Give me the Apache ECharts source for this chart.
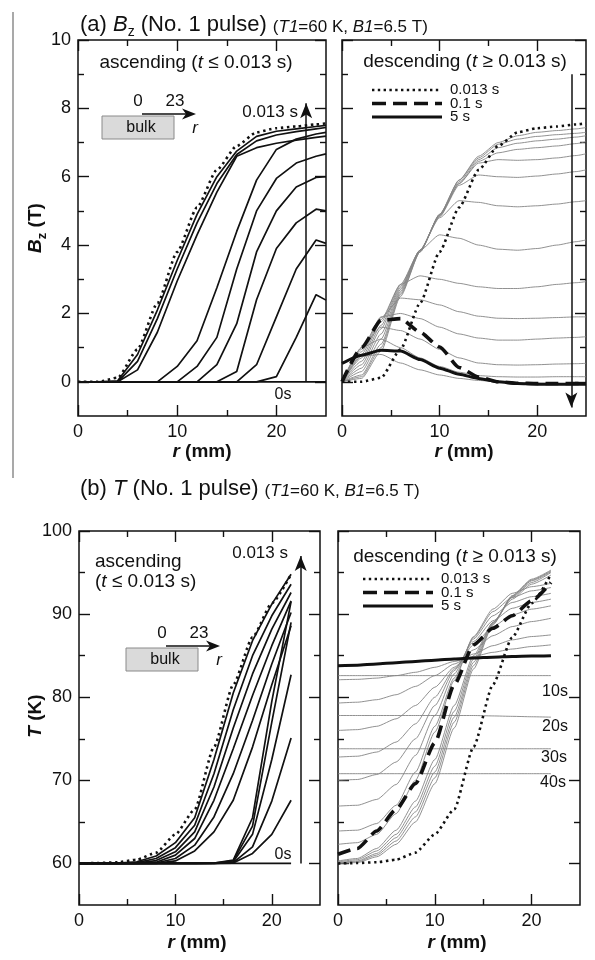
<!DOCTYPE html>
<html>
<head>
<meta charset="utf-8">
<script src="https://cdn.jsdelivr.net/npm/echarts@6/dist/echarts.min.js"></script>
<style>
  html, body { margin: 0; padding: 0; background: #fff; }
  #chart { width: 595px; height: 960px; }
</style>
</head>
<body>
<div id="chart"></div>
<script>
// radial positions (mm)
var R_B = [0, 2, 4, 6, 8, 10, 12, 14, 16, 18, 20, 22, 24, 25];
var R_T = [0, 2, 4, 6, 8, 10, 12, 14, 16, 18, 20, 22];

// tick values
var X_MAJOR = [0, 10, 20], X_MINOR = [5, 15];
var BZ_MAJOR = [0, 2, 4, 6, 8, 10], BZ_MINOR = [1, 3, 5, 7, 9];
var T_MAJOR = [60, 70, 80, 90, 100], T_MINOR = [65, 75, 85, 95];

// (a) Bz, ascending
var BZ_ASC_0S = [0, 0, 0, 0, 0, 0, 0, 0, 0, 0, 0, 0, 0, 0];
var BZ_0013 = [0, 0, 0.12, 0.95, 2.3, 3.8, 5.1, 6.2, 6.9, 7.3, 7.42, 7.47, 7.53, 7.56];
var BZ_ASC_1 = [0, 0, 0.03, 0.8, 2.1, 3.55, 4.9, 6.0, 6.75, 7.18, 7.33, 7.4, 7.47, 7.5];
var BZ_ASC_2 = [0, 0, 0, 0.6, 1.85, 3.3, 4.65, 5.8, 6.65, 7.05, 7.22, 7.32, 7.4, 7.44];
var BZ_ASC_3 = [0, 0, 0, 0.35, 1.45, 2.95, 4.3, 5.55, 6.6, 6.85, 6.98, 7.07, 7.15, 7.19];
var BZ_ASC_4 = [0, 0, 0, 0, 0, 0.45, 1.2, 2.75, 4.4, 5.9, 6.8, 7.1, 7.25, 7.3];
var BZ_ASC_5 = [0, 0, 0, 0, 0, 0, 0.45, 1.3, 3.3, 5.0, 5.95, 6.4, 6.6, 6.67];
var BZ_ASC_6 = [0, 0, 0, 0, 0, 0, 0, 0.5, 1.7, 3.8, 5.0, 5.7, 5.98, 6.0];
var BZ_ASC_7 = [0, 0, 0, 0, 0, 0, 0, 0, 0.3, 2.4, 3.9, 4.65, 5.05, 5.0];
var BZ_ASC_8 = [0, 0, 0, 0, 0, 0, 0, 0, 0, 0.5, 1.9, 3.3, 4.15, 4.05];
var BZ_ASC_9 = [0, 0, 0, 0, 0, 0, 0, 0, 0, 0, 0.15, 1.3, 2.55, 2.39];

// (a) Bz, descending
var BZ_DESC_1 = [0, 0.1, 0.9, 2.5, 3.8, 4.9, 5.9, 6.6, 7.0, 7.2, 7.3, 7.35, 7.4, 7.44];
var BZ_DESC_2 = [0, 0.15, 1.0, 2.55, 3.8, 4.9, 5.9, 6.55, 6.95, 7.1, 7.18, 7.23, 7.27, 7.3];
var BZ_DESC_3 = [0, 0.2, 1.1, 2.6, 3.82, 4.88, 5.85, 6.5, 6.85, 6.98, 7.05, 7.1, 7.16, 7.2];
var BZ_DESC_4 = [0, 0.3, 1.25, 2.65, 3.85, 4.87, 5.8, 6.45, 6.7, 6.8, 6.85, 6.9, 6.97, 7.02];
var BZ_DESC_5 = [0, 0.4, 1.4, 2.7, 3.85, 4.85, 5.8, 6.4, 6.5, 6.48, 6.5, 6.55, 6.62, 6.67];
var BZ_DESC_6 = [0, 0.5, 1.55, 2.75, 3.85, 4.83, 5.75, 6.05, 6.0, 5.98, 6.02, 6.08, 6.15, 6.2];
var BZ_DESC_7 = [0, 0.6, 1.65, 2.8, 3.85, 4.8, 5.3, 5.25, 5.15, 5.12, 5.15, 5.2, 5.27, 5.3];
var BZ_DESC_8 = [0, 0.7, 1.75, 2.85, 3.85, 4.3, 4.2, 4.0, 3.88, 3.85, 3.9, 4.0, 4.1, 4.15];
var BZ_DESC_9 = [0, 0.8, 1.82, 2.85, 3.1, 3.0, 2.88, 2.78, 2.73, 2.73, 2.78, 2.85, 2.9, 2.93];
var BZ_DESC_10 = [0, 0.88, 1.88, 2.45, 2.4, 2.25, 2.05, 1.92, 1.86, 1.85, 1.86, 1.88, 1.9, 1.9];
var BZ_DESC_11 = [0, 0.95, 1.9, 2.0, 1.85, 1.6, 1.4, 1.28, 1.22, 1.22, 1.25, 1.28, 1.3, 1.32];
var BZ_DESC_12 = [0, 1.0, 1.6, 1.5, 1.25, 0.95, 0.7, 0.55, 0.5, 0.49, 0.5, 0.52, 0.53, 0.54];
var BZ_DESC_13 = [0, 1.0, 1.25, 1.0, 0.7, 0.45, 0.28, 0.18, 0.15, 0.14, 0.14, 0.15, 0.15, 0.15];
var BZ_DESC_14 = [0, 0.75, 0.8, 0.55, 0.35, 0.2, 0.1, 0.04, 0, -0.03, -0.04, -0.05, -0.05, -0.05];
var BZ_01 = [0, 1.0, 1.8, 1.85, 1.45, 1.02, 0.42, 0.14, 0, -0.04, -0.05, -0.05, -0.05, -0.04];
var BZ_5S = [0.54, 0.78, 0.92, 0.9, 0.65, 0.4, 0.22, 0.1, 0, -0.05, -0.07, -0.07, -0.07, -0.07];

// (b) T, ascending
var T_ASC_0S = [60, 60, 60, 60, 60, 60, 60, 60, 60, 60, 60, 60];
var T_0013 = [60, 60.05, 60.15, 60.45, 61.3, 63.5, 66.5, 74.0, 81.5, 87.2, 91.3, 94.8];
var T_ASC_1 = [60, 60, 60.05, 60.2, 60.9, 62.5, 65.5, 72.5, 80.5, 86.8, 91.2, 94.8];
var T_ASC_2 = [60, 60, 60, 60.1, 60.6, 61.9, 64.6, 70.8, 78.5, 85.0, 89.8, 93.6];
var T_ASC_3 = [60, 60, 60, 60.05, 60.35, 61.4, 63.8, 69.2, 76.3, 82.8, 88.2, 92.6];
var T_ASC_4 = [60, 60, 60, 60, 60.15, 61.0, 63.0, 67.6, 73.8, 80.2, 86.2, 91.6];
var T_ASC_5 = [60, 60, 60, 60, 60.05, 60.6, 62.2, 65.6, 70.8, 77.2, 84.0, 90.2];
var T_ASC_6 = [60, 60, 60, 60, 60, 60.3, 61.5, 63.8, 67.6, 74.0, 81.5, 88.6];
var T_ASC_7 = [60, 60, 60, 60, 60, 60, 60, 60.05, 60.4, 65.5, 79.5, 91.5];
var T_ASC_8 = [60, 60, 60, 60, 60, 60, 60, 60.05, 60.3, 64.5, 77.0, 89.0];
var T_ASC_9 = [60, 60, 60, 60, 60, 60, 60, 60, 60.2, 63.5, 72.5, 82.7];
var T_ASC_10 = [60, 60, 60, 60, 60, 60, 60, 60, 60.1, 62.0, 67.5, 75.1];
var T_ASC_11 = [60, 60, 60, 60, 60, 60, 60, 60, 60.05, 61.2, 63.5, 67.6];

// (b) T, descending
var T_DESC_E1 = [60.3, 60.6, 61.8, 64.0, 67.5, 72.5, 79.0, 85.0, 89.0, 91.8, 93.6, 94.7];
var T_DESC_E2 = [60.2, 60.45, 61.5, 63.5, 66.8, 71.7, 78.3, 84.6, 89.0, 92.0, 93.8, 95.0];
var T_DESC_E3 = [60.1, 60.3, 61.2, 63.1, 66.2, 71.0, 77.6, 84.2, 88.9, 92.1, 94.0, 95.1];
var T_DESC_E4 = [60.05, 60.2, 61.0, 62.7, 65.6, 70.3, 77.0, 83.8, 88.8, 92.2, 94.1, 95.2];
var T_DESC_E5 = [60.0, 60.1, 60.8, 62.3, 65.0, 69.6, 76.3, 83.4, 88.7, 92.2, 94.2, 95.3];
var T_DESC_L1 = [82.1, 82.15, 82.3, 82.6, 83.0, 83.6, 84.3, 84.9, 85.4, 85.8, 86.1, 86.3];
var T_DESC_L2 = [79.3, 79.4, 79.7, 80.3, 81.3, 82.6, 84.0, 85.2, 86.2, 86.9, 87.3, 87.5];
var T_DESC_L3 = [76.0, 76.1, 76.5, 77.4, 79.0, 81.2, 83.6, 85.7, 87.4, 88.5, 89.1, 89.5];
var T_DESC_L4 = [72.8, 72.9, 73.4, 74.6, 76.8, 80.0, 83.4, 86.3, 88.5, 89.9, 90.6, 91.0];
var T_DESC_L5 = [70.0, 70.1, 70.7, 72.2, 75.0, 79.0, 83.2, 86.7, 89.2, 90.7, 91.4, 91.8];
var T_DESC_L6 = [66.9, 67.0, 67.7, 69.5, 73.0, 77.8, 82.8, 87.0, 89.8, 91.4, 92.1, 92.5];
var T_DESC_L7 = [63.9, 64.0, 64.8, 67.0, 71.0, 76.5, 82.3, 87.2, 90.3, 92.0, 92.8, 93.2];
var T_DESC_L8 = [62.3, 62.5, 63.5, 66.0, 70.0, 75.8, 82.0, 87.3, 90.6, 92.5, 93.3, 93.7];
var T_01 = [61.1, 61.8, 63.9, 66.5, 69.6, 74.5, 81.5, 86.3, 88.3, 89.8, 91.6, 93.8];
var T_5S = [83.8, 83.85, 84.0, 84.15, 84.3, 84.45, 84.6, 84.72, 84.82, 84.9, 84.95, 85.0];
var T_10S = [82.6, 82.6, 82.6, 82.6, 82.6, 82.6, 82.6, 82.6, 82.6, 82.6, 82.6, 82.6];
var T_20S = [77.8, 77.8, 77.8, 77.8, 77.8, 77.8, 77.8, 77.8, 77.75, 77.7, 77.65, 77.6];
var T_30S = [73.8, 73.8, 73.8, 73.8, 73.8, 73.8, 73.8, 73.8, 73.8, 73.8, 73.8, 73.8];
var T_40S = [70.8, 70.8, 70.8, 70.8, 70.8, 70.8, 70.8, 70.8, 70.8, 70.8, 70.8, 70.8];

var FONT = '"Liberation Sans", Arial, Helvetica, sans-serif';
var INK = '#111';

(function() {
    var myChart = echarts.init(document.getElementById('chart'));

    // 4 panels: (a) asc, (a) desc, (b) asc, (b) desc
    var grids = [
        { left: 78, top: 40, width: 248, height: 376 },
        { left: 342, top: 40, width: 244, height: 376 },
        { left: 79, top: 531, width: 241, height: 374 },
        { left: 338, top: 531, width: 242, height: 374 }
    ].map(function(g) {
        return Object.assign({ show: true, borderColor: INK, borderWidth: 1.5, backgroundColor: 'transparent' }, g);
    });

    var tickStyle = { color: INK, width: 1.4 };

    function ax(g, pos, min, max, ticks, len, labels) {
        return {
            gridIndex: g, type: 'value', position: pos, min: min, max: max,
            // onZero off, otherwise the axis jumps to the zero line
            axisLine: { show: false, onZero: false },
            splitLine: { show: false },
            axisTick: { show: true, inside: true, length: len, customValues: ticks, lineStyle: tickStyle },
            axisLabel: labels ? {
                show: true, customValues: labels, fontSize: 18, color: INK, fontFamily: FONT, margin: 7
            } : { show: false }
        };
    }

    // every panel gets 4 axes per dimension: major+minor on both sides
    function axesFor(dim, g, min, max, major, minor, labelled) {
        var a = dim === 'x' ? 'bottom' : 'left';
        var b = dim === 'x' ? 'top' : 'right';
        return [
            ax(g, a, min, max, major, 11, labelled ? major : null),
            ax(g, a, min, max, minor, 6, null),
            ax(g, b, min, max, major, 11, null),
            ax(g, b, min, max, minor, 6, null)
        ];
    }

    var xAxis = [].concat(
        axesFor('x', 0, 0, 25, X_MAJOR, X_MINOR, true),
        axesFor('x', 1, 0, 25, X_MAJOR, X_MINOR, true),
        axesFor('x', 2, 0, 25, X_MAJOR, X_MINOR, true),
        axesFor('x', 3, 0, 25, X_MAJOR, X_MINOR, true)
    );
    var yAxis = [].concat(
        axesFor('y', 0, -1, 10, BZ_MAJOR, BZ_MINOR, true),
        axesFor('y', 1, -1, 10, BZ_MAJOR, BZ_MINOR, false),
        axesFor('y', 2, 55, 100, T_MAJOR, T_MINOR, true),
        axesFor('y', 3, 55, 100, T_MAJOR, T_MINOR, false)
    );

    var S_BLACK = { color: INK, width: 1.7 };
    var S_GRAY = { color: '#858585', width: 0.9 };
    var S_DOT = { color: INK, width: 2.6, type: [2.4, 3.6] };
    var S_DASH = { color: INK, width: 3.6, type: [13, 7] };
    var S_THICK = { color: INK, width: 3 };

    var series = [];
    function addLine(g, xs, ys, style, extra) {
        series.push(Object.assign({
            type: 'line',
            xAxisIndex: 4 * g,
            yAxisIndex: 4 * g,
            data: xs.map(function(x, i) { return [x, ys[i]]; }),
            symbol: 'none',
            showSymbol: false,
            silent: true,
            lineStyle: style
        }, extra || {}));
    }
    function arrow(from, to) {
        return {
            silent: true,
            symbol: ['none', 'arrow'],
            symbolSize: [9, 15],
            label: { show: false },
            lineStyle: { color: INK, width: 1.5, type: 'solid' },
            data: [[{ coord: from }, { coord: to }]]
        };
    }
    var smooth = { smooth: 0.2, smoothMonotone: 'x' };

    // (a) ascending
    addLine(0, R_B, BZ_ASC_0S, S_BLACK, { markLine: arrow([23, 0], [23, 8.15]) });
    [BZ_ASC_1, BZ_ASC_2, BZ_ASC_3, BZ_ASC_4, BZ_ASC_5, BZ_ASC_6, BZ_ASC_7, BZ_ASC_8, BZ_ASC_9]
        .forEach(function(v) { addLine(0, R_B, v, S_BLACK); });
    addLine(0, R_B, BZ_0013, S_DOT, smooth);

    // (a) descending
    [BZ_DESC_1, BZ_DESC_2, BZ_DESC_3, BZ_DESC_4, BZ_DESC_5, BZ_DESC_6, BZ_DESC_7,
     BZ_DESC_8, BZ_DESC_9, BZ_DESC_10, BZ_DESC_11, BZ_DESC_12, BZ_DESC_13, BZ_DESC_14]
        .forEach(function(v) { addLine(1, R_B, v, S_GRAY, smooth); });
    addLine(1, R_B, BZ_0013, S_DOT, smooth);
    addLine(1, R_B, BZ_01, S_DASH, smooth);
    addLine(1, R_B, BZ_5S, S_THICK, Object.assign({ markLine: arrow([23.5, 9.0], [23.5, -0.75]) }, smooth));

    // (b) ascending
    addLine(2, R_T, T_ASC_0S, S_BLACK, { markLine: arrow([23, 60], [23, 97]) });
    [T_ASC_1, T_ASC_2, T_ASC_3, T_ASC_4, T_ASC_5, T_ASC_6, T_ASC_7, T_ASC_8, T_ASC_9, T_ASC_10, T_ASC_11]
        .forEach(function(v) { addLine(2, R_T, v, S_BLACK); });
    addLine(2, R_T, T_0013, S_DOT, smooth);

    // (b) descending
    [T_DESC_E1, T_DESC_E2, T_DESC_E3, T_DESC_E4, T_DESC_E5,
     T_DESC_L1, T_DESC_L2, T_DESC_L3, T_DESC_L4, T_DESC_L5, T_DESC_L6, T_DESC_L7, T_DESC_L8,
     T_10S, T_20S, T_30S, T_40S]
        .forEach(function(v) { addLine(3, R_T, v, S_GRAY, smooth); });
    addLine(3, R_T, T_0013, S_DOT, smooth);
    addLine(3, R_T, T_01, S_DASH, smooth);
    addLine(3, R_T, T_5S, S_THICK, smooth);

    // texts and small drawings
    function txt(x, y, text, o) {
        return {
            type: 'text', x: x, y: y, silent: true, z: 100,
            style: Object.assign({ text: text, fill: INK, fontFamily: FONT, fontSize: 18, align: 'left', verticalAlign: 'middle' }, o || {})
        };
    }
    function rs(size, extra) {
        return Object.assign({ fontSize: size, fontFamily: FONT, fill: INK }, extra || {});
    }
    // subscripts: small token pinned to the bottom of a taller line
    var richTitle = {
        n: rs(22, { lineHeight: 28 }), i: rs(22, { fontStyle: 'italic', lineHeight: 28 }),
        sub: rs(14, { verticalAlign: 'bottom', lineHeight: 12 }),
        s: rs(17, { lineHeight: 28, verticalAlign: 'bottom', padding: [0, 0, 3, 0] }),
        si: rs(17, { fontStyle: 'italic', lineHeight: 28, verticalAlign: 'bottom', padding: [0, 0, 3, 0] })
    };
    var richTxt = { n: rs(19), i: rs(19, { fontStyle: 'italic' }) };
    var richAxis = {
        b: rs(19, { fontWeight: 'bold', fontStyle: 'italic', lineHeight: 26 }),
        n: rs(19, { fontWeight: 'bold', lineHeight: 26 }),
        sub: rs(13, { fontWeight: 'bold', verticalAlign: 'bottom', lineHeight: 12 })
    };

    function bulk(x0, y0) {
        // x0,y0 = top-left of the grey block
        return [
            { type: 'rect', silent: true, z: 100, shape: { x: x0, y: y0, width: 72, height: 23 },
              style: { fill: '#dadada', stroke: '#8a8a8a', lineWidth: 1 } },
            txt(x0 + 39, y0 + 12, 'bulk', { align: 'center', fontSize: 16 }),
            { type: 'line', silent: true, z: 100, shape: { x1: x0 + 40, y1: y0 - 2, x2: x0 + 88, y2: y0 - 2 },
              style: { stroke: INK, lineWidth: 1.6 } },
            { type: 'polygon', silent: true, z: 100,
              shape: { points: [[x0 + 94, y0 - 2], [x0 + 80, y0 - 7.5], [x0 + 84, y0 - 2], [x0 + 80, y0 + 3.5]] },
              style: { fill: INK } },
            txt(x0 + 36, y0 - 15, '0', { align: 'center', fontSize: 17 }),
            txt(x0 + 73, y0 - 15, '23', { align: 'center', fontSize: 17 }),
            txt(x0 + 93, y0 + 12, 'r', { align: 'center', fontSize: 17, fontStyle: 'italic' })
        ];
    }

    function legend(x, y) {
        return [
            { type: 'line', silent: true, z: 100, shape: { x1: x, y1: y, x2: x + 68, y2: y },
              style: { stroke: INK, lineWidth: 2.4, lineDash: [2.4, 3.4] } },
            { type: 'line', silent: true, z: 100, shape: { x1: x, y1: y + 13.5, x2: x + 70, y2: y + 13.5 },
              style: { stroke: INK, lineWidth: 3.4, lineDash: [14, 7] } },
            { type: 'line', silent: true, z: 100, shape: { x1: x, y1: y + 27, x2: x + 70, y2: y + 27 },
              style: { stroke: INK, lineWidth: 3 } },
            txt(x + 78, y, '0.013 s', { fontSize: 15 }),
            txt(x + 78, y + 13.5, '0.1 s', { fontSize: 15 }),
            txt(x + 78, y + 27, '5 s', { fontSize: 15 })
        ];
    }

    var graphic = [].concat(
        [
            { type: 'line', silent: true, shape: { x1: 13, y1: 12, x2: 13, y2: 478 },
              style: { stroke: '#8c8c8c', lineWidth: 1.5 } },
            txt(80, 25, '{n|(a) }{i|B}{sub|z}{n| (No. 1 pulse) }{s|(}{si|T1}{s|=60 K, }{si|B1}{s|=6.5 T)}', { rich: richTitle }),
            txt(80, 489, '{n|(b) }{i|T}{n| (No. 1 pulse) }{s|(}{si|T1}{s|=60 K, }{si|B1}{s|=6.5 T)}', { rich: richTitle }),
            txt(196, 63, '{n|ascending (}{i|t}{n| ≤ 0.013 s)}', { align: 'center', rich: richTxt }),
            txt(465, 62, '{n|descending (}{i|t}{n| ≥ 0.013 s)}', { align: 'center', rich: richTxt }),
            txt(95, 562, 'ascending', { fontSize: 19 }),
            txt(95, 582, '{n|(}{i|t}{n| ≤ 0.013 s)}', { rich: richTxt }),
            txt(455, 557, '{n|descending (}{i|t}{n| ≥ 0.013 s)}', { align: 'center', rich: richTxt }),
            txt(298, 112, '0.013 s', { align: 'right', fontSize: 17 }),
            txt(283, 395, '0s', { align: 'center', fontSize: 16 }),
            txt(288, 553, '0.013 s', { align: 'right', fontSize: 17 }),
            txt(283, 855, '0s', { align: 'center', fontSize: 16 }),
            txt(555, 692, '10s', { align: 'center', fontSize: 16 }),
            txt(555, 727, '20s', { align: 'center', fontSize: 16 }),
            txt(554, 758, '30s', { align: 'center', fontSize: 16 }),
            txt(553, 783, '40s', { align: 'center', fontSize: 16 }),
            txt(202, 452, '{b|r}{n| (mm)}', { align: 'center', rich: richAxis }),
            txt(464, 452, '{b|r}{n| (mm)}', { align: 'center', rich: richAxis }),
            txt(197, 943, '{b|r}{n| (mm)}', { align: 'center', rich: richAxis }),
            txt(457, 943, '{b|r}{n| (mm)}', { align: 'center', rich: richAxis }),
            Object.assign(txt(36, 228, '{b|B}{sub|z}{n| (T)}', { align: 'center', rich: richAxis }), { rotation: Math.PI / 2 }),
            Object.assign(txt(36, 716, '{b|T}{n| (K)}', { align: 'center', rich: richAxis }), { rotation: Math.PI / 2 })
        ],
        bulk(102, 116),
        bulk(126, 648),
        legend(372, 90),
        legend(363, 579)
    );

    var option = {
        animation: false,
        backgroundColor: '#fff',
        grid: grids,
        xAxis: xAxis,
        yAxis: yAxis,
        series: series,
        graphic: graphic
    };
    myChart.setOption(option);
    window.addEventListener('resize', function() {
        myChart.resize();
    });
})();
</script>
</body>
</html>
